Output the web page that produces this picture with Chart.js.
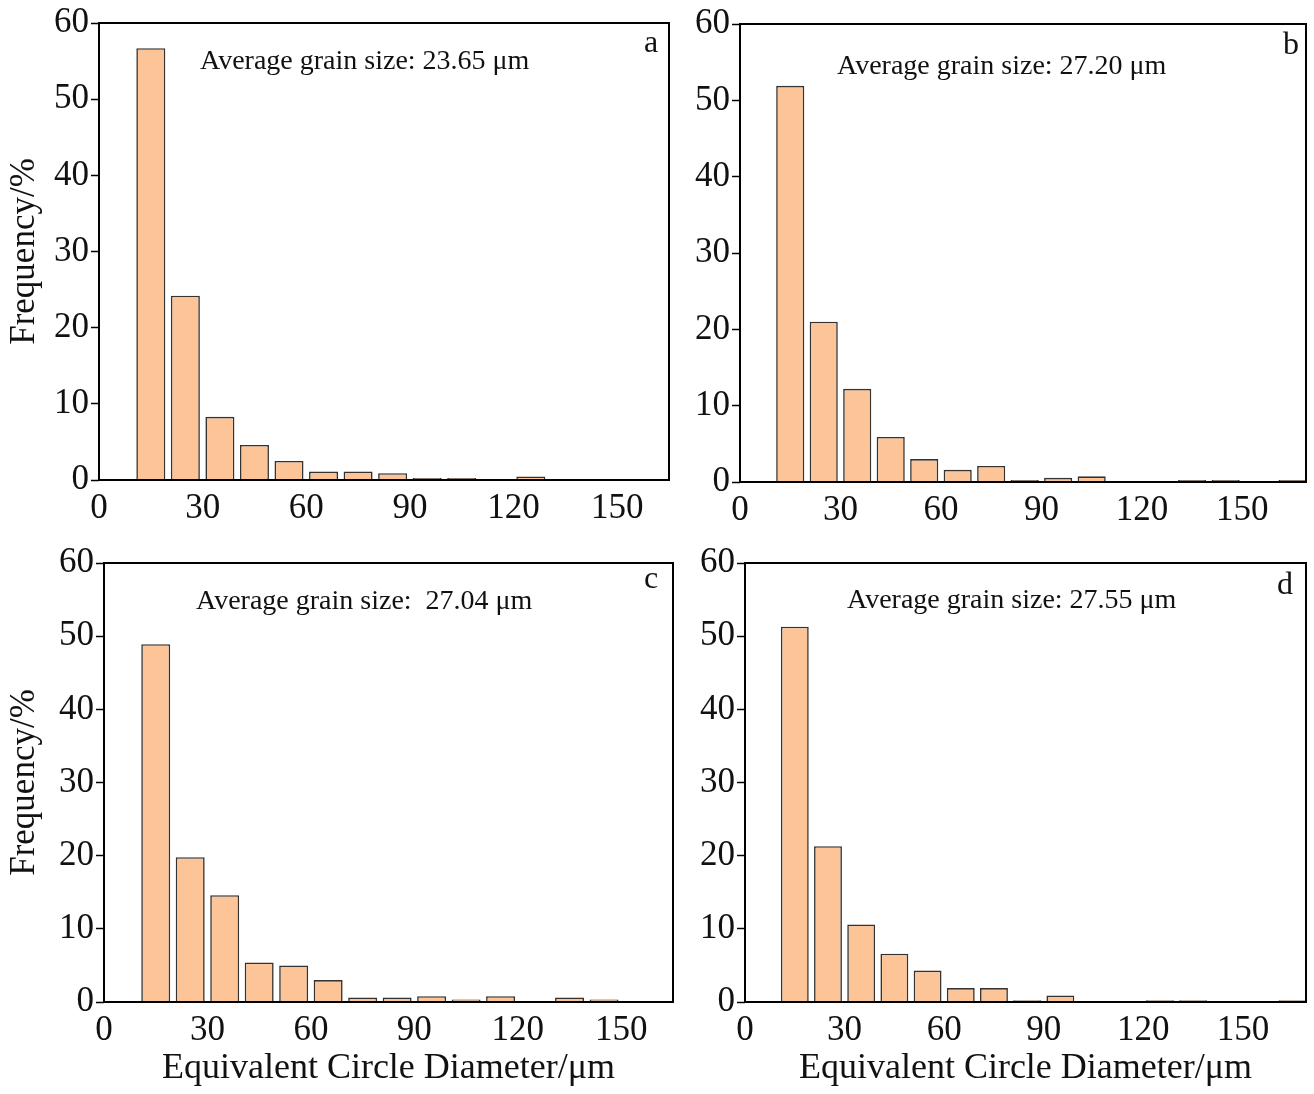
<!DOCTYPE html>
<html>
<head>
<meta charset="utf-8">
<script src="https://cdn.jsdelivr.net/npm/chart.js@4/dist/chart.umd.min.js"></script>
<style>
  html, body { margin: 0; padding: 0; background: #fff; }
  body { width: 1314px; height: 1094px; position: relative; overflow: hidden; }
  .panel { position: absolute; }
</style>
</head>
<body>
<div class="panel" id="pa" style="left:0px;top:0px;width:690px;height:540px;"><canvas id="ca"></canvas></div>
<div class="panel" id="pb" style="left:690px;top:0px;width:624px;height:540px;"><canvas id="cb"></canvas></div>
<div class="panel" id="pc" style="left:0px;top:540px;width:690px;height:554px;"><canvas id="cc"></canvas></div>
<div class="panel" id="pd" style="left:690px;top:540px;width:624px;height:554px;"><canvas id="cd"></canvas></div>
<script>
// Bin centres (µm), bins of width 10 starting at 10
const binCenters = [15, 25, 35, 45, 55, 65, 75, 85, 95, 105, 115, 125, 135, 145, 155, 165];

// Frequency (%) per bin
const freqA = [56.7, 24.2, 8.3, 4.6, 2.5, 1.1, 1.1, 0.9, 0.25, 0.25, 0, 0.45, 0, 0, 0, 0];
const freqB = [51.9, 21.0, 12.2, 5.9, 3.0, 1.6, 2.1, 0.25, 0.55, 0.75, 0, 0, 0.25, 0.25, 0, 0.25];
const freqC = [48.9, 19.8, 14.6, 5.4, 5.0, 3.0, 0.6, 0.6, 0.8, 0.35, 0.8, 0, 0.6, 0.35, 0, 0];
const freqD = [51.3, 21.3, 10.6, 6.6, 4.3, 1.9, 1.9, 0.25, 0.9, 0, 0, 0.25, 0.25, 0, 0, 0.25];

const panelLetters = ['a', 'b', 'c', 'd'];
const avgTexts = ['Average grain size: 23.65 \u03bcm', 'Average grain size: 27.20 \u03bcm',
                  'Average grain size:  27.04 \u03bcm', 'Average grain size: 27.55 \u03bcm'];
const xTitle = 'Equivalent Circle Diameter/\u03bcm';
const yTitle = 'Frequency/%';

const FONT = "'Liberation Serif', 'Times New Roman', serif";

function makeChart(id, values, cfg) {
  const data = binCenters.map((x, i) => ({ x: x, y: values[i] > 0 ? values[i] : null }));
  const overlay = {
    id: 'overlay',
    afterDraw(chart) {
      const ctx = chart.ctx;
      const a = chart.chartArea;
      ctx.save();
      ctx.strokeStyle = '#000';
      ctx.lineWidth = 2;
      ctx.strokeRect(a.left, a.top, a.right - a.left, a.bottom - a.top);
      ctx.fillStyle = '#111';
      ctx.textBaseline = 'middle';
      ctx.font = '28px ' + FONT;
      ctx.textAlign = 'left';
      ctx.fillText(cfg.text, cfg.tx, cfg.ty);
      ctx.font = '32px ' + FONT;
      ctx.textAlign = 'center';
      ctx.fillText(cfg.letter, cfg.lx, cfg.ly);
      ctx.restore();
    }
  };
  return new Chart(document.getElementById(id), {
    type: 'bar',
    data: {
      datasets: [{
        data: data,
        backgroundColor: '#FDC597',
        borderColor: '#333333',
        borderWidth: 1.6,
        barPercentage: 0.84,
        categoryPercentage: 1.0
      }]
    },
    options: {
      responsive: true,
      maintainAspectRatio: false,
      animation: false,
      layout: { padding: { left: 0, top: cfg.padTop, right: cfg.padRight, bottom: 0 } },
      plugins: { legend: { display: false }, tooltip: { enabled: false } },
      scales: {
        x: {
          type: 'linear',
          min: 0,
          max: cfg.xmax,
          offset: false,
          border: { display: false },
          grid: { display: false, drawTicks: false, offset: false },
          ticks: { stepSize: 30, includeBounds: false, color: '#111', padding: 8,
                   font: { family: FONT, size: 35 } },
          title: { display: cfg.showX, text: xTitle, color: '#111', padding: { top: 1 },
                   font: { family: FONT, size: 36 } },
          afterFit(s) { s.height = cfg.xh; }
        },
        y: {
          min: 0,
          max: 60,
          border: { display: false },
          grid: { drawOnChartArea: false, drawTicks: true, tickLength: 8, tickWidth: 1.5, tickColor: '#000' },
          ticks: { stepSize: 5, color: '#111', padding: 2,
                   font: { family: FONT, size: 35 },
                   callback: (v) => (v % 10 === 0 ? String(v) : '') },
          title: { display: cfg.showY, text: yTitle, color: '#111', padding: { bottom: 0 },
                   font: { family: FONT, size: 35 } },
          afterFit(s) { s.width = cfg.yw; }
        }
      }
    },
    plugins: [overlay]
  });
}

makeChart('ca', freqA, { xmax: 165, padTop: 22, padRight: 21, xh: 60, yw: 99, showX: false, showY: true,
  text: avgTexts[0], tx: 200, ty: 62, letter: panelLetters[0], lx: 651, ly: 44 });
makeChart('cb', freqB, { xmax: 169, padTop: 24, padRight: 8, xh: 58, yw: 50, showX: false, showY: false,
  text: avgTexts[1], tx: 837 - 690, ty: 67, letter: panelLetters[1], lx: 601, ly: 46 });
makeChart('cc', freqC, { xmax: 165, padTop: 17, padRight: 17, xh: 92, yw: 104, showX: true, showY: true,
  text: avgTexts[2], tx: 196, ty: 62, letter: panelLetters[2], lx: 651, ly: 40 });
makeChart('cd', freqD, { xmax: 169, padTop: 19, padRight: 8, xh: 92, yw: 55, showX: true, showY: false,
  text: avgTexts[3], tx: 847 - 690, ty: 61, letter: panelLetters[3], lx: 595, ly: 46 });
</script>
</body>
</html>
